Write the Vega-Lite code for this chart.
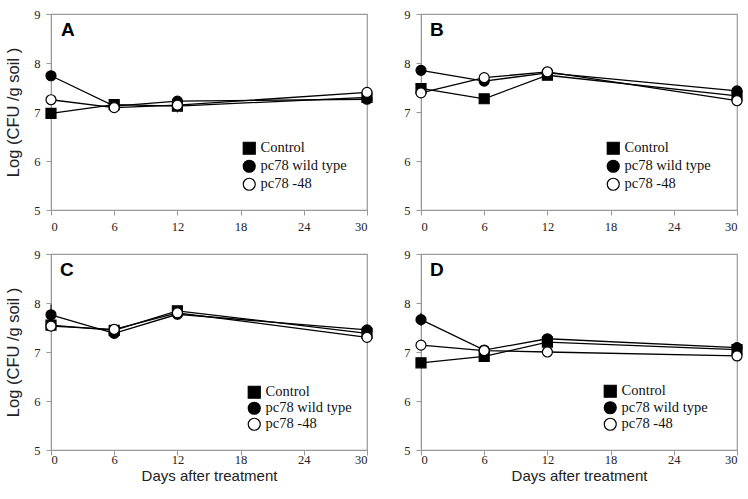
{
  "$schema": "https://vega.github.io/schema/vega-lite/v6.json",
  "background": "white",
  "padding": {"left": 5, "top": 7, "right": 10, "bottom": 5},
  "config": {
    "view": {"stroke": "#999999", "strokeWidth": 1.2},
    "axis": {"domainColor": "#999999", "tickColor": "#999999", "grid": false, "labelFont": "Liberation Serif", "labelFontSize": 12.5, "labelColor": "#222222", "tickSize": 5, "labelPadding": 3, "titleFont": "Liberation Sans", "titleFontSize": 15, "titleFontWeight": "normal", "titleColor": "#222222"},
    "axisY": {"labelPadding": 6, "titleFontSize": 16.5},
    "legend": {"labelFont": "Liberation Serif", "labelFontSize": 14.5, "labelColor": "#111111", "padding": 0, "symbolStrokeWidth": 1.2, "labelOffset": 4}
  },
  "data": {"values": [
    {"panel": "A", "series": "Control", "day": 0, "value": 6.97},
    {"panel": "A", "series": "Control", "day": 6, "value": 7.15},
    {"panel": "A", "series": "Control", "day": 12, "value": 7.12, "lo": 6.99, "hi": 7.25},
    {"panel": "A", "series": "Control", "day": 30, "value": 7.30},
    {"panel": "A", "series": "pc78 wild type", "day": 0, "value": 7.74},
    {"panel": "A", "series": "pc78 wild type", "day": 6, "value": 7.12},
    {"panel": "A", "series": "pc78 wild type", "day": 12, "value": 7.22},
    {"panel": "A", "series": "pc78 wild type", "day": 30, "value": 7.26},
    {"panel": "A", "series": "pc78 -48", "day": 0, "value": 7.25},
    {"panel": "A", "series": "pc78 -48", "day": 6, "value": 7.09},
    {"panel": "A", "series": "pc78 -48", "day": 12, "value": 7.14},
    {"panel": "A", "series": "pc78 -48", "day": 30, "value": 7.40},
    {"panel": "B", "series": "Control", "day": 0, "value": 7.48, "lo": 7.40, "hi": 7.57},
    {"panel": "B", "series": "Control", "day": 6, "value": 7.27},
    {"panel": "B", "series": "Control", "day": 12, "value": 7.75},
    {"panel": "B", "series": "Control", "day": 30, "value": 7.33},
    {"panel": "B", "series": "pc78 wild type", "day": 0, "value": 7.85},
    {"panel": "B", "series": "pc78 wild type", "day": 6, "value": 7.63},
    {"panel": "B", "series": "pc78 wild type", "day": 12, "value": 7.80},
    {"panel": "B", "series": "pc78 wild type", "day": 30, "value": 7.43},
    {"panel": "B", "series": "pc78 -48", "day": 0, "value": 7.39},
    {"panel": "B", "series": "pc78 -48", "day": 6, "value": 7.70},
    {"panel": "B", "series": "pc78 -48", "day": 12, "value": 7.82, "lo": 7.72, "hi": 7.93},
    {"panel": "B", "series": "pc78 -48", "day": 30, "value": 7.23},
    {"panel": "C", "series": "Control", "day": 0, "value": 7.55},
    {"panel": "C", "series": "Control", "day": 6, "value": 7.44},
    {"panel": "C", "series": "Control", "day": 12, "value": 7.84},
    {"panel": "C", "series": "Control", "day": 30, "value": 7.38},
    {"panel": "C", "series": "pc78 wild type", "day": 0, "value": 7.76, "lo": 7.55, "hi": 7.97},
    {"panel": "C", "series": "pc78 wild type", "day": 6, "value": 7.38},
    {"panel": "C", "series": "pc78 wild type", "day": 12, "value": 7.77, "lo": 7.66, "hi": 7.88},
    {"panel": "C", "series": "pc78 wild type", "day": 30, "value": 7.45},
    {"panel": "C", "series": "pc78 -48", "day": 0, "value": 7.53, "lo": 7.43, "hi": 7.63},
    {"panel": "C", "series": "pc78 -48", "day": 6, "value": 7.46},
    {"panel": "C", "series": "pc78 -48", "day": 12, "value": 7.80},
    {"panel": "C", "series": "pc78 -48", "day": 30, "value": 7.30},
    {"panel": "D", "series": "Control", "day": 0, "value": 6.78},
    {"panel": "D", "series": "Control", "day": 6, "value": 6.91},
    {"panel": "D", "series": "Control", "day": 12, "value": 7.20},
    {"panel": "D", "series": "Control", "day": 30, "value": 7.05},
    {"panel": "D", "series": "pc78 wild type", "day": 0, "value": 7.66, "lo": 7.53, "hi": 7.80},
    {"panel": "D", "series": "pc78 wild type", "day": 6, "value": 7.04},
    {"panel": "D", "series": "pc78 wild type", "day": 12, "value": 7.27},
    {"panel": "D", "series": "pc78 wild type", "day": 30, "value": 7.09},
    {"panel": "D", "series": "pc78 -48", "day": 0, "value": 7.14},
    {"panel": "D", "series": "pc78 -48", "day": 6, "value": 7.03},
    {"panel": "D", "series": "pc78 -48", "day": 12, "value": 7.00},
    {"panel": "D", "series": "pc78 -48", "day": 30, "value": 6.92}
  ]},
  "bounds": "flush",
  "columns": 2,
  "spacing": {"row": 44, "column": 54},
  "resolve": {"scale": {"shape": "independent", "fill": "independent"}, "legend": {"shape": "independent", "fill": "independent"}},
  "concat": [
    {
      "width": 316, "height": 196,
      "transform": [{"filter": "datum.panel === 'A'"}],
      "layer": [
        {"transform": [{"filter": "isValid(datum.lo)"}], "mark": {"type": "rule", "color": "black", "strokeWidth": 1}, "encoding": {"x": {"field": "day", "type": "quantitative"}, "y": {"field": "lo", "type": "quantitative"}, "y2": {"field": "hi"}}},
        {"mark": {"type": "line", "color": "black", "strokeWidth": 1.3}, "encoding": {"x": {"field": "day", "type": "quantitative", "scale": {"domain": [0, 30], "nice": false}, "axis": {"values": [0, 6, 12, 18, 24, 30], "title": null, "labelPadding": 5}}, "y": {"field": "value", "type": "quantitative", "scale": {"domain": [5, 9], "nice": false, "zero": false}, "axis": {"values": [5, 6, 7, 8, 9], "title": "Log (CFU /g soil )", "titlePadding": 12}}, "detail": {"field": "series"}}},
        {"mark": {"type": "point", "stroke": "black", "strokeWidth": 1.2, "opacity": 1, "size": 100}, "encoding": {"x": {"field": "day", "type": "quantitative"}, "y": {"field": "value", "type": "quantitative"},
          "shape": {"field": "series", "type": "nominal", "scale": {"domain": ["Control", "pc78 wild type", "pc78 -48"], "range": ["square", "circle", "circle"]}, "legend": {"title": null, "orient": "none", "legendX": 191, "legendY": 127, "symbolSize": 144, "rowPadding": 0}},
          "fill": {"field": "series", "type": "nominal", "scale": {"domain": ["Control", "pc78 wild type", "pc78 -48"], "range": ["black", "black", "white"]}, "legend": {"title": null, "orient": "none", "legendX": 191, "legendY": 127, "symbolSize": 144, "rowPadding": 0}}}},
        {"transform": [{"filter": "datum.day === 0 && datum.series === 'Control'"}], "mark": {"type": "text", "font": "Liberation Sans", "fontWeight": "bold", "fontSize": 19, "align": "left", "baseline": "alphabetic", "color": "black"}, "encoding": {"x": {"datum": 0.95}, "y": {"datum": 8.55}, "text": {"field": "panel"}}}
      ]
    },
    {
      "width": 316, "height": 196,
      "transform": [{"filter": "datum.panel === 'B'"}],
      "layer": [
        {"transform": [{"filter": "isValid(datum.lo)"}], "mark": {"type": "rule", "color": "black", "strokeWidth": 1}, "encoding": {"x": {"field": "day", "type": "quantitative"}, "y": {"field": "lo", "type": "quantitative"}, "y2": {"field": "hi"}}},
        {"mark": {"type": "line", "color": "black", "strokeWidth": 1.3}, "encoding": {"x": {"field": "day", "type": "quantitative", "scale": {"domain": [0, 30], "nice": false}, "axis": {"values": [0, 6, 12, 18, 24, 30], "title": null, "labelPadding": 5}}, "y": {"field": "value", "type": "quantitative", "scale": {"domain": [5, 9], "nice": false, "zero": false}, "axis": {"values": [5, 6, 7, 8, 9], "title": null}}, "detail": {"field": "series"}}},
        {"mark": {"type": "point", "stroke": "black", "strokeWidth": 1.2, "opacity": 1, "size": 100}, "encoding": {"x": {"field": "day", "type": "quantitative"}, "y": {"field": "value", "type": "quantitative"},
          "shape": {"field": "series", "type": "nominal", "scale": {"domain": ["Control", "pc78 wild type", "pc78 -48"], "range": ["square", "circle", "circle"]}, "legend": {"title": null, "orient": "none", "legendX": 185, "legendY": 127, "symbolSize": 144, "rowPadding": 0}},
          "fill": {"field": "series", "type": "nominal", "scale": {"domain": ["Control", "pc78 wild type", "pc78 -48"], "range": ["black", "black", "white"]}, "legend": {"title": null, "orient": "none", "legendX": 185, "legendY": 127, "symbolSize": 144, "rowPadding": 0}}}},
        {"transform": [{"filter": "datum.day === 0 && datum.series === 'Control'"}], "mark": {"type": "text", "font": "Liberation Sans", "fontWeight": "bold", "fontSize": 19, "align": "left", "baseline": "alphabetic", "color": "black"}, "encoding": {"x": {"datum": 0.85}, "y": {"datum": 8.55}, "text": {"field": "panel"}}}
      ]
    },
    {
      "width": 316, "height": 196,
      "transform": [{"filter": "datum.panel === 'C'"}],
      "layer": [
        {"transform": [{"filter": "isValid(datum.lo)"}], "mark": {"type": "rule", "color": "black", "strokeWidth": 1}, "encoding": {"x": {"field": "day", "type": "quantitative"}, "y": {"field": "lo", "type": "quantitative"}, "y2": {"field": "hi"}}},
        {"mark": {"type": "line", "color": "black", "strokeWidth": 1.3}, "encoding": {"x": {"field": "day", "type": "quantitative", "scale": {"domain": [0, 30], "nice": false}, "axis": {"values": [0, 6, 12, 18, 24, 30], "title": "Days after treatment", "labelPadding": -2, "titlePadding": 3}}, "y": {"field": "value", "type": "quantitative", "scale": {"domain": [5, 9], "nice": false, "zero": false}, "axis": {"values": [5, 6, 7, 8, 9], "title": "Log (CFU /g soil )", "titlePadding": 12}}, "detail": {"field": "series"}}},
        {"mark": {"type": "point", "stroke": "black", "strokeWidth": 1.2, "opacity": 1, "size": 100}, "encoding": {"x": {"field": "day", "type": "quantitative"}, "y": {"field": "value", "type": "quantitative"},
          "shape": {"field": "series", "type": "nominal", "scale": {"domain": ["Control", "pc78 wild type", "pc78 -48"], "range": ["square", "circle", "circle"]}, "legend": {"title": null, "orient": "none", "legendX": 196, "legendY": 131, "symbolSize": 144, "rowPadding": -2}},
          "fill": {"field": "series", "type": "nominal", "scale": {"domain": ["Control", "pc78 wild type", "pc78 -48"], "range": ["black", "black", "white"]}, "legend": {"title": null, "orient": "none", "legendX": 196, "legendY": 131, "symbolSize": 144, "rowPadding": -2}}}},
        {"transform": [{"filter": "datum.day === 0 && datum.series === 'Control'"}], "mark": {"type": "text", "font": "Liberation Sans", "fontWeight": "bold", "fontSize": 19, "align": "left", "baseline": "alphabetic", "color": "black"}, "encoding": {"x": {"datum": 0.85}, "y": {"datum": 8.55}, "text": {"field": "panel"}}}
      ]
    },
    {
      "width": 316, "height": 196,
      "transform": [{"filter": "datum.panel === 'D'"}],
      "layer": [
        {"transform": [{"filter": "isValid(datum.lo)"}], "mark": {"type": "rule", "color": "black", "strokeWidth": 1}, "encoding": {"x": {"field": "day", "type": "quantitative"}, "y": {"field": "lo", "type": "quantitative"}, "y2": {"field": "hi"}}},
        {"mark": {"type": "line", "color": "black", "strokeWidth": 1.3}, "encoding": {"x": {"field": "day", "type": "quantitative", "scale": {"domain": [0, 30], "nice": false}, "axis": {"values": [0, 6, 12, 18, 24, 30], "title": "Days after treatment", "labelPadding": -2, "titlePadding": 3}}, "y": {"field": "value", "type": "quantitative", "scale": {"domain": [5, 9], "nice": false, "zero": false}, "axis": {"values": [5, 6, 7, 8, 9], "title": null}}, "detail": {"field": "series"}}},
        {"mark": {"type": "point", "stroke": "black", "strokeWidth": 1.2, "opacity": 1, "size": 100}, "encoding": {"x": {"field": "day", "type": "quantitative"}, "y": {"field": "value", "type": "quantitative"},
          "shape": {"field": "series", "type": "nominal", "scale": {"domain": ["Control", "pc78 wild type", "pc78 -48"], "range": ["square", "circle", "circle"]}, "legend": {"title": null, "orient": "none", "legendX": 182, "legendY": 130, "symbolSize": 144, "rowPadding": -1.5}},
          "fill": {"field": "series", "type": "nominal", "scale": {"domain": ["Control", "pc78 wild type", "pc78 -48"], "range": ["black", "black", "white"]}, "legend": {"title": null, "orient": "none", "legendX": 182, "legendY": 130, "symbolSize": 144, "rowPadding": -1.5}}}},
        {"transform": [{"filter": "datum.day === 0 && datum.series === 'Control'"}], "mark": {"type": "text", "font": "Liberation Sans", "fontWeight": "bold", "fontSize": 19, "align": "left", "baseline": "alphabetic", "color": "black"}, "encoding": {"x": {"datum": 0.85}, "y": {"datum": 8.55}, "text": {"field": "panel"}}}
      ]
    }
  ]
}
